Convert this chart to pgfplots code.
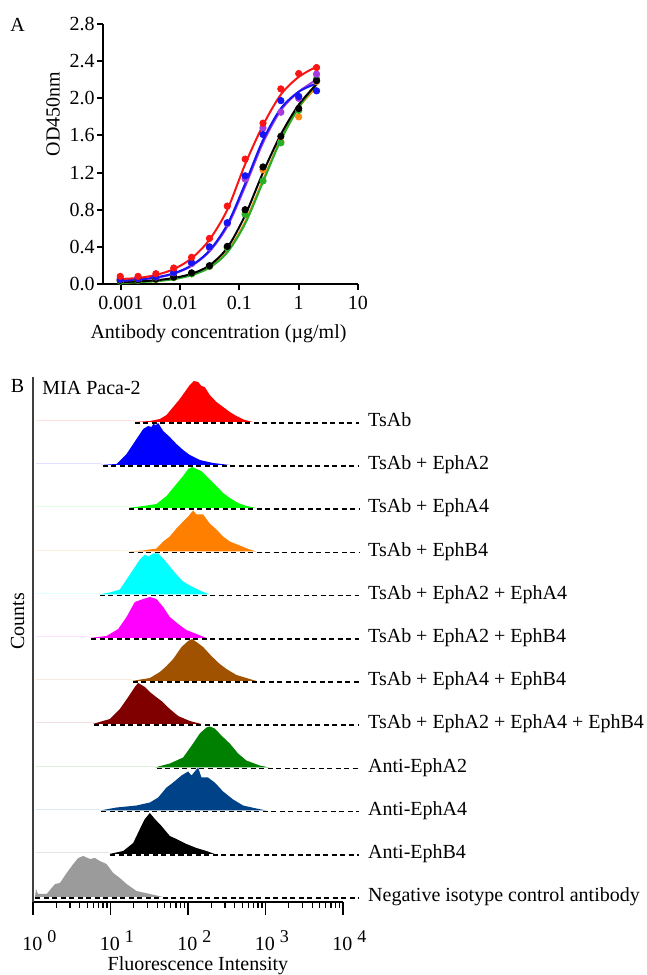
\documentclass[border=0pt]{standalone}
\usepackage{fontspec}
\setmainfont{Liberation Serif}
\usepackage{pgfplots}
\pgfplotsset{compat=1.18}

% panel A colours
\definecolor{aRed}{RGB}{250,20,20}
\definecolor{aBlue}{RGB}{20,20,245}
\definecolor{aPurple}{RGB}{165,60,225}
\definecolor{aOrange}{RGB}{255,140,20}
\definecolor{aGreen}{RGB}{40,175,40}
% panel B colours
\definecolor{hRed}{RGB}{255,0,0}
\definecolor{hBlue}{RGB}{0,0,255}
\definecolor{hGreen}{RGB}{0,255,0}
\definecolor{hOrange}{RGB}{255,128,0}
\definecolor{hCyan}{RGB}{0,255,255}
\definecolor{hMagenta}{RGB}{255,0,255}
\definecolor{hBrown}{RGB}{160,82,0}
\definecolor{hDarkRed}{RGB}{128,0,0}
\definecolor{hDarkGreen}{RGB}{0,128,0}
\definecolor{hNavy}{RGB}{0,66,136}
\definecolor{hGray}{RGB}{155,155,155}

\newcommand{\dec}[1]{10\hspace{2.5pt}\raisebox{4pt}{\fontsize{9}{10}\selectfont #1}}
\tikzset{bdash/.style={black, line width=0.6pt, dash pattern=on 2.5pt off 1.75pt}}

\begin{document}
\begin{tikzpicture}[x=1pt,y=1pt,font=\fontsize{10}{12}\selectfont]
\path[use as bounding box] (0,0) rectangle (323.5,487.5);

\node at (8.75,475) {A};
\node at (8.75,294.5) {B};
\node[anchor=base west, inner sep=0pt] at (21,290) {MIA Paca-2};

% ---------------- panel A ----------------
\begin{axis}[
  at={(51.5pt,345.5pt)}, anchor=south west,
  scale only axis, width=127.5pt, height=130pt,
  xmode=log, xmin=0.0005, xmax=10, ymin=0, ymax=2.8,
  axis lines*=left,
  axis line style={line width=1pt},
  tick align=outside, major tick length=3pt,
  tick style={line width=1pt, black},
  xtick={0.001,0.01,0.1,1,10}, xticklabels={0.001,0.01,0.1,1,10},
  xminorticks=false,
  ytick={0,0.4,0.8,1.2,1.6,2.0,2.4,2.8},
  /pgf/number format/assume math mode=true,
  yticklabel style={/pgf/number format/fixed, /pgf/number format/fixed zerofill,
    /pgf/number format/precision=1, anchor=east, inner sep=0pt, xshift=-1pt},
  xticklabel style={anchor=base, inner sep=0pt, yshift=-9.75pt},
  tick label style={font=\fontsize{10}{12}\selectfont},
  xlabel={Antibody concentration (µg/ml)},
  xlabel style={at={(axis description cs:0.453,-0.2115)}, anchor=base, inner sep=0pt},
  ylabel={OD450nm},
  ylabel style={at={(axis description cs:-0.196,0.654)}, anchor=center, inner sep=0pt},
  clip=false,
]
% fitted curves
\addplot[aOrange, line width=1pt, smooth] coordinates {
  (0.000977,0.015)(0.00195,0.022)(0.0039,0.033)(0.0078,0.055)(0.0156,0.10)(0.03125,0.18)
  (0.0625,0.35)(0.125,0.67)(0.25,1.12)(0.5,1.56)(1,1.90)(2,2.12)};
\addplot[aGreen, line width=1pt, smooth] coordinates {
  (0.000977,0.012)(0.00195,0.020)(0.0039,0.030)(0.0078,0.052)(0.0156,0.095)(0.03125,0.175)
  (0.0625,0.34)(0.125,0.65)(0.25,1.10)(0.5,1.55)(1,1.90)(2,2.16)};
\addplot[black, line width=1pt, smooth] coordinates {
  (0.000977,0.020)(0.00195,0.028)(0.0039,0.040)(0.0078,0.065)(0.0156,0.11)(0.03125,0.20)
  (0.0625,0.39)(0.125,0.74)(0.25,1.20)(0.5,1.61)(1,1.93)(2,2.15)};
\addplot[aPurple, line width=1pt, smooth] coordinates {
  (0.000977,0.035)(0.00195,0.047)(0.0039,0.068)(0.0078,0.11)(0.0156,0.195)(0.03125,0.35)
  (0.0625,0.62)(0.125,1.05)(0.25,1.52)(0.5,1.87)(1,2.07)(2,2.20)};
\addplot[aBlue, line width=1pt, smooth] coordinates {
  (0.000977,0.035)(0.00195,0.048)(0.0039,0.070)(0.0078,0.115)(0.0156,0.20)(0.03125,0.36)
  (0.0625,0.64)(0.125,1.08)(0.25,1.55)(0.5,1.89)(1,2.07)(2,2.16)};
\addplot[aRed, line width=1pt, smooth] coordinates {
  (0.000977,0.054)(0.00195,0.065)(0.0039,0.097)(0.0078,0.16)(0.0156,0.276)(0.03125,0.477)
  (0.0625,0.80)(0.125,1.29)(0.25,1.71)(0.5,2.04)(1,2.23)(2,2.34)};
% measured points
\addplot[only marks, mark=*, mark size=1.6pt, aOrange] coordinates {
  (0.000977,0.035)(0.00195,0.04)(0.0039,0.05)(0.0078,0.07)(0.0156,0.11)(0.03125,0.19)
  (0.0625,0.395)(0.125,0.76)(0.25,1.23)(0.5,1.53)(1,1.80)(2,2.18)};
\addplot[only marks, mark=*, mark size=1.6pt, aGreen] coordinates {
  (0.000977,0.03)(0.00195,0.04)(0.0039,0.05)(0.0078,0.07)(0.0156,0.11)(0.03125,0.19)
  (0.0625,0.39)(0.125,0.75)(0.25,1.11)(0.5,1.52)(1,1.87)(2,2.21)};
\addplot[only marks, mark=*, mark size=1.6pt, black] coordinates {
  (0.000977,0.04)(0.00195,0.045)(0.0039,0.054)(0.0078,0.075)(0.0156,0.12)(0.03125,0.197)
  (0.0625,0.405)(0.125,0.80)(0.25,1.26)(0.5,1.59)(1,1.89)(2,2.19)};
\addplot[only marks, mark=*, mark size=1.6pt, aPurple] coordinates {
  (0.000977,0.05)(0.00195,0.058)(0.0039,0.075)(0.0078,0.12)(0.0156,0.22)(0.03125,0.39)
  (0.0625,0.65)(0.125,1.13)(0.25,1.68)(0.5,1.85)(1,2.00)(2,2.26)};
\addplot[only marks, mark=*, mark size=1.6pt, aBlue] coordinates {
  (0.000977,0.054)(0.00195,0.061)(0.0039,0.08)(0.0078,0.125)(0.0156,0.23)(0.03125,0.40)
  (0.0625,0.66)(0.125,1.165)(0.25,1.61)(0.5,1.975)(1,2.02)(2,2.08)};
\addplot[only marks, mark=*, mark size=1.6pt, aRed] coordinates {
  (0.000977,0.082)(0.00195,0.082)(0.0039,0.111)(0.0078,0.172)(0.0156,0.287)(0.03125,0.491)
  (0.0625,0.839)(0.125,1.345)(0.25,1.732)(0.5,2.101)(1,2.266)(2,2.331)};
\end{axis}

% ---------------- panel B ----------------
\begin{axis}[
  at={(16.5pt,36.5pt)}, anchor=south west,
  scale only axis, width=155pt, height=262.5pt,
  xmin=0, xmax=4, ymin=0, ymax=525,
  axis lines*=left, clip=false,
  x axis line style={line width=1pt, black},
  y axis line style={line width=0.8pt, black!75},
  ytick=\empty,
  xtick={0,1,2,3,4},
  xticklabels={\dec{0},\dec{1},\dec{2},\dec{3},\dec{4}},
  minor xtick={0.301,0.477,0.602,0.699,0.778,0.845,0.903,0.954,
    1.301,1.477,1.602,1.699,1.778,1.845,1.903,1.954,
    2.301,2.477,2.602,2.699,2.778,2.845,2.903,2.954,
    3.301,3.477,3.602,3.699,3.778,3.845,3.903,3.954},
  tick align=outside, major tick length=6.5pt, minor tick length=3pt,
  tick style={line width=0.6pt, black},
  xticklabel style={anchor=base west, inner sep=0pt, xshift=-5.5pt, yshift=-17.5pt},
  tick label style={font=\fontsize{10}{12}\selectfont},
  xlabel={Fluorescence Intensity},
  xlabel style={at={(axis description cs:0.532,-0.1314)}, anchor=base, inner sep=0pt},
  ylabel={Counts},
  ylabel style={at={(axis description cs:-0.05,0.535)}, anchor=center, inner sep=0pt},
]
% TsAb
\addplot[hRed!12, line width=0.5pt] coordinates {(0.04,481)(1.314,481)};
\addplot[fill=hRed, draw=none, y filter/.expression={y+480}] coordinates {
  (1.314,0)(1.508,1)(1.637,3)(1.723,7)(1.809,15)(1.894,23)(1.959,30)(2.023,37)(2.075,41)
  (2.131,40)(2.173,36)(2.216,35)(2.281,27)(2.367,20)(2.453,15)(2.539,10)(2.625,6)(2.732,2)(2.839,0)};
\addplot[bdash] coordinates {(1.314,479)(4.21,479)};
\node[anchor=base west, inner sep=0pt] at (axis cs:4.32,475) {TsAb};
% TsAb + EphA2
\addplot[hBlue!12, line width=0.5pt] coordinates {(0.04,438)(0.872,438)};
\addplot[fill=hBlue, draw=none, y filter/.expression={y+437}] coordinates {
  (0.872,0)(1.078,1)(1.207,11)(1.336,26)(1.422,36)(1.486,39)(1.530,38)(1.551,41)(1.590,40)
  (1.615,42)(1.680,34)(1.765,28)(1.851,21)(1.937,15)(2.023,10)(2.152,5)(2.324,2)(2.539,0)};
\addplot[bdash] coordinates {(0.90,436)(4.21,436)};
\node[anchor=base west, inner sep=0pt] at (axis cs:4.32,432) {TsAb + EphA2};
% TsAb + EphA4
\addplot[hGreen!12, line width=0.5pt] coordinates {(0.04,395)(1.220,395)};
\addplot[fill=hGreen, draw=none, y filter/.expression={y+394}] coordinates {
  (1.220,0)(1.422,2)(1.594,4)(1.723,12)(1.851,24)(1.937,32)(2.002,39)(2.053,41)(2.109,39)
  (2.173,37)(2.238,32)(2.302,27)(2.367,22)(2.453,15)(2.539,10)(2.646,5)(2.753,2)(2.882,0)};
\addplot[bdash] coordinates {(1.24,393)(4.21,393)};
\node[anchor=base west, inner sep=0pt] at (axis cs:4.32,389) {TsAb + EphA4};
% TsAb + EphB4
\addplot[hOrange!12, line width=0.5pt] coordinates {(0.04,351.5)(1.216,351.5)};
\addplot[fill=hOrange, draw=none, y filter/.expression={y+350.5}] coordinates {
  (1.216,0)(1.422,1)(1.594,3)(1.680,10)(1.765,15)(1.851,23)(1.937,30)(2.002,35)(2.066,41)
  (2.109,37)(2.195,37)(2.281,28)(2.367,22)(2.453,15)(2.539,10)(2.668,6)(2.796,2)(2.882,0)};
\addplot[bdash] coordinates {(1.24,349.5)(4.21,349.5)};
\node[anchor=base west, inner sep=0pt] at (axis cs:4.32,345.5) {TsAb + EphB4};
% TsAb + EphA2 + EphA4
\addplot[hCyan!12, line width=0.5pt] coordinates {(0.04,308.5)(0.842,308.5)};
\addplot[fill=hCyan, draw=none, y filter/.expression={y+307.5}] coordinates {
  (0.842,0)(0.992,2)(1.121,5)(1.207,15)(1.293,25)(1.379,35)(1.443,40)(1.486,38)(1.551,41)
  (1.615,41)(1.680,36)(1.765,28)(1.851,20)(1.937,13)(2.023,9)(2.152,4)(2.281,0)};
\addplot[bdash] coordinates {(0.86,306.5)(4.21,306.5)};
\node[anchor=base west, inner sep=0pt] at (axis cs:4.32,302.5) {TsAb + EphA2 + EphA4};
% TsAb + EphA2 + EphB4
\addplot[hMagenta!12, line width=0.5pt] coordinates {(0.04,265)(0.726,265)};
\addplot[fill=hMagenta, draw=none, y filter/.expression={y+264}] coordinates {
  (0.726,0)(0.949,2)(1.100,9)(1.207,21)(1.314,36)(1.422,39)(1.508,41)(1.594,39)(1.680,31)
  (1.765,21)(1.873,14)(1.980,8)(2.109,4)(2.238,0)};
\addplot[bdash] coordinates {(0.75,263)(4.21,263)};
\node[anchor=base west, inner sep=0pt] at (axis cs:4.32,259) {TsAb + EphA2 + EphB4};
% TsAb + EphA4 + EphB4
\addplot[hBrown!12, line width=0.5pt] coordinates {(0.04,222)(1.271,222)};
\addplot[fill=hBrown, draw=none, y filter/.expression={y+221}] coordinates {
  (1.271,0)(1.508,3)(1.637,9)(1.723,15)(1.809,22)(1.916,34)(2.002,40)(2.053,42)(2.109,39)
  (2.195,34)(2.302,25)(2.410,17)(2.496,12)(2.625,6)(2.753,3)(2.882,0)};
\addplot[bdash] coordinates {(1.29,220)(4.21,220)};
\node[anchor=base west, inner sep=0pt] at (axis cs:4.32,216) {TsAb + EphA4 + EphB4};
% TsAb + EphA2 + EphA4 + EphB4
\addplot[hDarkRed!12, line width=0.5pt] coordinates {(0.04,179)(0.769,179)};
\addplot[fill=hDarkRed, draw=none, y filter/.expression={y+178}] coordinates {
  (0.769,0)(0.992,5)(1.121,15)(1.229,27)(1.314,37)(1.357,41)(1.443,37)(1.508,32)(1.572,28)
  (1.658,23)(1.765,15)(1.873,8)(2.023,3)(2.174,0)};
\addplot[bdash] coordinates {(0.79,177)(4.21,177)};
\node[anchor=base west, inner sep=0pt] at (axis cs:4.32,173) {TsAb + EphA2 + EphA4 + EphB4};
% Anti-EphA2
\addplot[hDarkGreen!12, line width=0.5pt] coordinates {(0.04,135.5)(1.572,135.5)};
\addplot[fill=hDarkGreen, draw=none, y filter/.expression={y+134.5}] coordinates {
  (1.572,0)(1.765,4)(1.937,10)(2.066,24)(2.152,34)(2.238,40)(2.281,41)(2.345,39)(2.431,32)
  (2.539,24)(2.646,14)(2.753,7)(2.925,2)(3.054,0)};
\addplot[bdash] coordinates {(1.60,133.5)(4.21,133.5)};
\node[anchor=base west, inner sep=0pt] at (axis cs:4.32,129.5) {Anti-EphA2};
% Anti-EphA4
\addplot[hNavy!12, line width=0.5pt] coordinates {(0.04,92.5)(0.863,92.5)};
\addplot[fill=hNavy, draw=none, y filter/.expression={y+91.5}] coordinates {
  (0.863,0)(1.078,3)(1.336,5)(1.508,8)(1.615,13)(1.723,23)(1.809,28)(1.916,35)(2.002,39)
  (2.045,35)(2.109,41)(2.131,43)(2.174,33)(2.259,33)(2.345,28)(2.453,19)(2.582,11)(2.711,5)
  (2.882,2)(3.011,0)};
\addplot[bdash] coordinates {(0.88,90.5)(4.21,90.5)};
\node[anchor=base west, inner sep=0pt] at (axis cs:4.32,86.5) {Anti-EphA4};
% Anti-EphB4
\addplot[black!10, line width=0.5pt] coordinates {(0.04,49)(0.984,49)};
\addplot[fill=black, draw=none, y filter/.expression={y+48}] coordinates {
  (0.984,0)(1.164,3)(1.293,11)(1.379,25)(1.443,35)(1.508,41)(1.572,35)(1.658,28)(1.765,18)
  (1.851,15)(1.980,10)(2.109,6)(2.238,3)(2.345,0)};
\addplot[bdash] coordinates {(1.00,47)(4.21,47)};
\node[anchor=base west, inner sep=0pt] at (axis cs:4.32,43) {Anti-EphB4};
% Negative isotype control
\addplot[fill=hGray, draw=none, y filter/.expression={y+5}] coordinates {
  (0.026,0)(0.039,8)(0.064,3)(0.176,3)(0.284,13)(0.348,14)(0.434,24)(0.520,33)(0.584,39)
  (0.649,41)(0.735,38)(0.799,39)(0.863,36)(0.949,33)(1.035,24)(1.121,19)(1.207,13)(1.336,6)
  (1.508,3)(1.680,0)};
\addplot[bdash] coordinates {(0.03,4)(4.21,4)};
\node[anchor=base west, inner sep=0pt] at (axis cs:4.32,0) {Negative isotype control antibody};
\end{axis}
\end{tikzpicture}
\end{document}
